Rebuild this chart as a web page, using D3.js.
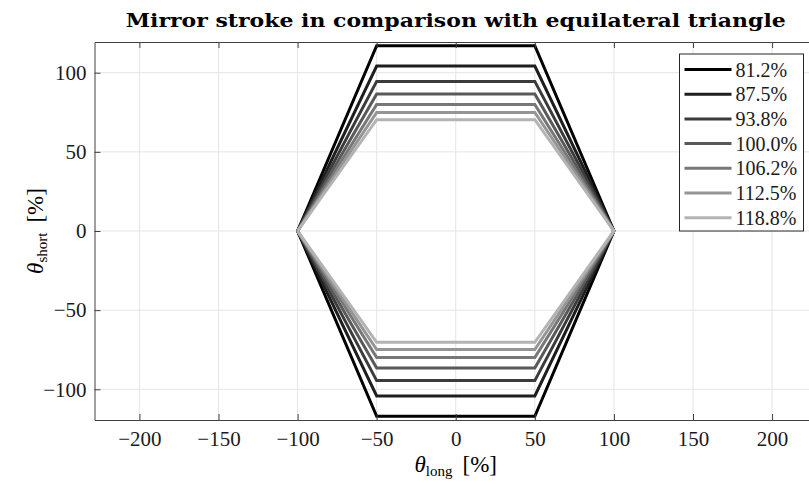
<!DOCTYPE html>
<html>
<head>
<meta charset="utf-8">
<script src="https://cdn.jsdelivr.net/npm/d3@7"></script>
<style>
  html, body { margin: 0; padding: 0; background: #fff; }
  svg { display: block; }
  svg text { font-family: "Liberation Serif", "DejaVu Serif", serif; }
</style>
</head>
<body>
<svg id="chart" width="809" height="484"></svg>
<script>
// stroke series, legend order
const strokeLabels = ["81.2%", "87.5%", "93.8%", "100.0%", "106.2%", "112.5%", "118.8%"];
// half height of each hexagon (theta_short at the flat edge)
const halfHeights = [117.1, 104.2, 94.5, 86.6, 79.9, 74.9, 70.3];
// greyscale per series
const strokeGrey = [0, 0.117, 0.233, 0.35, 0.467, 0.583, 0.7];
// hexagon outline: theta_long and the factor applied to the half height
const outlineLong = [-100, -50, 50, 100, 50, -50, -100];
const outlineShort = [0, 1, 1, 0, -1, -1, 0];

const xTicks = [-200, -150, -100, -50, 0, 50, 100, 150, 200];
const yTicks = [-100, -50, 0, 50, 100];

const plot = { left: 94.5, right: 817, top: 42, bottom: 420 };

const svg = d3.select("#chart");

const x = d3.scaleLinear().domain([-228.4, 228.4]).range([plot.left, plot.right]);
const y = d3.scaleLinear().domain([-119.4, 119.4]).range([plot.bottom, plot.top]);

const grey = g => {
  const v = Math.round(g * 255);
  return d3.rgb(v, v, v).toString();
};

// grid
const grid = svg.append("g").attr("stroke", "#e5e5e5").attr("stroke-width", 1);
grid.selectAll(".gx").data(xTicks).enter().append("line")
  .attr("x1", d => x(d)).attr("x2", d => x(d))
  .attr("y1", plot.top).attr("y2", plot.bottom);
grid.selectAll(".gy").data(yTicks).enter().append("line")
  .attr("x1", plot.left).attr("x2", plot.right)
  .attr("y1", d => y(d)).attr("y2", d => y(d));

// hexagons
const line = d3.line().x(d => x(d[0])).y(d => y(d[1]));
svg.append("g").attr("fill", "none").attr("stroke-width", 3).attr("stroke-linejoin", "miter")
  .selectAll("path")
  .data(halfHeights.map((h, i) => ({ h, i })))
  .enter().append("path")
  .attr("stroke", d => grey(strokeGrey[d.i]))
  .attr("d", d => line(outlineLong.map((lx, k) => [lx, outlineShort[k] * d.h])));

// axes
const axisColor = "#404040";
const fmt = d => (d < 0 ? "\u2212" + Math.abs(d) : String(d));

const xAxis = svg.append("g")
  .attr("transform", `translate(0,${plot.bottom})`)
  .call(d3.axisBottom(x).tickValues(xTicks).tickSizeInner(-6).tickSizeOuter(0).tickPadding(11).tickFormat(fmt));
const xTop = svg.append("g")
  .attr("transform", `translate(0,${plot.top})`)
  .call(d3.axisTop(x).tickValues(xTicks).tickSizeInner(-6).tickSizeOuter(0).tickFormat(""));
const yAxis = svg.append("g")
  .attr("transform", `translate(${plot.left},0)`)
  .call(d3.axisLeft(y).tickValues(yTicks).tickSizeInner(-6).tickSizeOuter(0).tickPadding(8).tickFormat(fmt));

[xAxis, xTop, yAxis].forEach(a => {
  a.attr("font-family", null).attr("font-size", null);
  a.select(".domain").attr("stroke", axisColor);
  a.selectAll(".tick line").attr("stroke", axisColor);
  a.selectAll("text").attr("fill", "#1a1a1a")
    .style("font-family", "'Liberation Serif', serif").style("font-size", "21px");
});
xAxis.selectAll("text").attr("dy", "0.71em");

// title
svg.append("text")
  .attr("x", (plot.left + plot.right) / 2).attr("y", 27)
  .attr("text-anchor", "middle")
  .attr("textLength", 660).attr("lengthAdjust", "spacingAndGlyphs")
  .style("font-family", "'DejaVu Serif', serif")
  .style("font-size", "19px").style("font-weight", "bold")
  .text("Mirror stroke in comparison with equilateral triangle");

// axis labels
const xl = svg.append("text")
  .attr("x", (plot.left + plot.right) / 2).attr("y", 472)
  .attr("text-anchor", "middle").style("font-size", "23px");
xl.append("tspan").style("font-style", "italic").text("\u03b8");
xl.append("tspan").attr("baseline-shift", "-25%").style("font-size", "15px").text("long");
xl.append("tspan").attr("dx", 10).text("[%]");

const yl = svg.append("text")
  .attr("transform", `translate(43,${(plot.top + plot.bottom) / 2}) rotate(-90)`)
  .attr("text-anchor", "middle").style("font-size", "23px");
yl.append("tspan").style("font-style", "italic").text("\u03b8");
yl.append("tspan").attr("baseline-shift", "-25%").style("font-size", "15px").text("short");
yl.append("tspan").attr("dx", 10).text("[%]");

// legend
const lg = svg.append("g").attr("transform", "translate(679.5,54)");
lg.append("rect").attr("width", 124).attr("height", 177)
  .attr("fill", "#fff").attr("stroke", "#262626").attr("stroke-width", 1);
const rows = lg.selectAll(".row").data(strokeLabels).enter().append("g")
  .attr("transform", (d, i) => `translate(0,${15.5 + i * 24.7})`);
rows.append("line").attr("x1", 5).attr("x2", 52).attr("y1", 0).attr("y2", 0)
  .attr("stroke-width", 3).attr("stroke", (d, i) => grey(strokeGrey[i]));
rows.append("text").attr("x", 56).attr("dy", "0.35em")
  .style("font-size", "20px").attr("fill", "#1a1a1a").text(d => d);
</script>
</body>
</html>
